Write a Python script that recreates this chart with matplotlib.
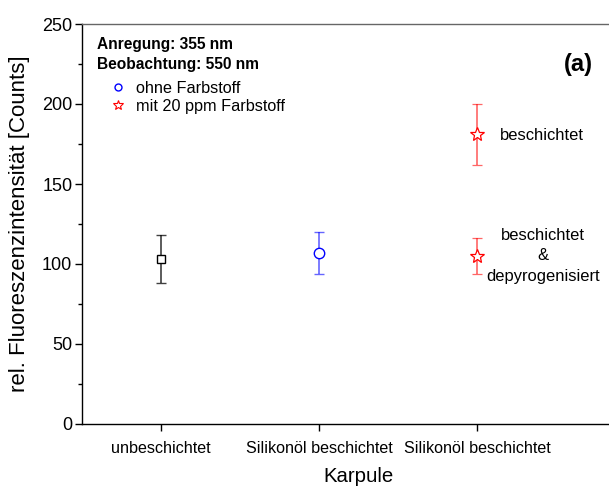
import matplotlib
matplotlib.use("Agg")
import matplotlib.pyplot as plt
from matplotlib.lines import Line2D

plt.rcParams['font.family'] = ['Liberation Sans', 'DejaVu Sans']

# Sample positions and fluorescence intensities
x_uncoated = [1.0]
y_uncoated = [103]
e_uncoated = [15]

x_plain = [2.0]
y_plain = [107]
e_plain = [13]

x_dye = [3.0, 3.0]
y_dye = [181, 105]
e_dye = [19, 11]

tick_pos = [1, 2, 3]
tick_labels = ["unbeschichtet", "Silikonöl beschichtet", "Silikonöl beschichtet"]

fig = plt.figure(figsize=(6.09, 4.87), dpi=100)
# axes extends past the right border of the figure
ax_left, ax_bottom = 82 / 609, 1 - 424 / 487
ax_w = (635 - 82) / 609
ax_h = (424 - 24) / 487
ax = fig.add_axes([ax_left, ax_bottom, ax_w, ax_h])

ax.errorbar(x_uncoated, y_uncoated, yerr=e_uncoated, fmt='s', ms=6,
            mfc='white', mec='black', mew=1.0, ecolor=(0, 0, 0, 0.75),
            elinewidth=1.2, capsize=3.5, capthick=1.2)
ax.errorbar(x_plain, y_plain, yerr=e_plain, fmt='o', ms=7.5,
            mfc='white', mec='blue', mew=1.0, ecolor=(0, 0, 1, 0.6),
            elinewidth=1.2, capsize=3.5, capthick=1.2)
ax.errorbar(x_dye, y_dye, yerr=e_dye, fmt='*', ms=10,
            mfc='white', mec='red', mew=0.9, ecolor=(1, 0, 0, 0.6),
            elinewidth=1.2, capsize=3.5, capthick=1.2)

ax.set_xlim(0.5, 4.0)
ax.set_ylim(0, 250)
ax.set_yticks(range(0, 251, 50))
ax.set_yticks(range(25, 250, 50), minor=True)
ax.set_xticks(tick_pos)
ax.set_xticklabels(tick_labels)

ax.spines['right'].set_visible(False)
for s in ('left', 'bottom', 'top'):
    ax.spines[s].set_linewidth(1.0)
ax.spines['top'].set_color('#666666')

ax.tick_params(axis='y', which='major', direction='out', length=5, width=1,
               labelsize=13, pad=2)
ax.tick_params(axis='y', which='minor', direction='out', length=3, width=1)
ax.tick_params(axis='x', which='major', direction='out', length=5, width=1,
               labelsize=11.6, pad=7)

ax.set_ylabel("rel. Fluoreszenzintensität [Counts]", fontsize=16, labelpad=9)
ax.set_xlabel("Karpule", fontsize=14.7, labelpad=8)

# header text and legend
ax.annotate("Anregung: 355 nm", xy=(97, 487 - 45), xycoords='figure pixels',
            fontsize=11.2, fontweight='bold', va='center', ha='left')
ax.annotate("Beobachtung: 550 nm", xy=(97, 487 - 64), xycoords='figure pixels',
            fontsize=11.2, fontweight='bold', va='center', ha='left')

handles = [
    Line2D([], [], ls='none', marker='o', ms=5, mfc='white', mec='blue', mew=1.0),
    Line2D([], [], ls='none', marker='*', ms=7, mfc='white', mec='red', mew=0.8),
]
leg = fig.legend(handles, ["ohne Farbstoff", "mit 20 ppm Farbstoff"],
                 loc='upper left', bbox_to_anchor=(100 / 609, 1 - 73 / 487),
                 frameon=False, fontsize=11.7, handlelength=1.2,
                 handletextpad=0.5, labelspacing=0.15, borderpad=0)

ax.annotate("(a)", xy=(578, 487 - 64), xycoords='figure pixels',
            fontsize=17, fontweight='bold', va='center', ha='center')

ax.annotate("beschichtet", xy=(542, 487 - 135), xycoords='figure pixels',
            fontsize=11.9, va='center', ha='center')
ax.annotate("beschichtet\n&\ndepyrogenisiert", xy=(543, 487 - 256),
            xycoords='figure pixels', fontsize=11.9, va='center', ha='center',
            linespacing=1.45)

fig.savefig("out.png", dpi=100)
